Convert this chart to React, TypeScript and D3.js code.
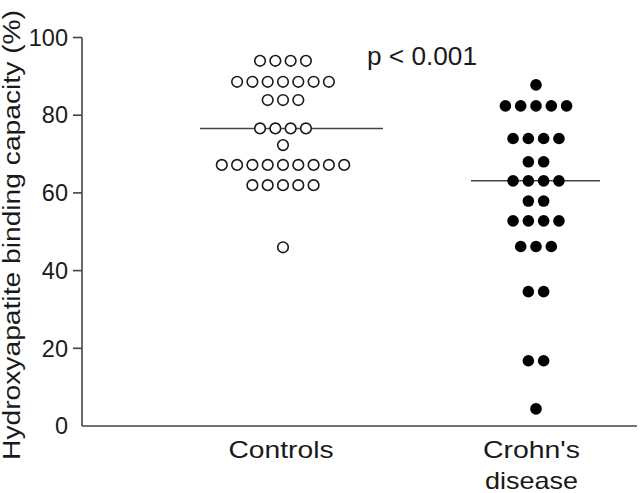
import React from "react";
import * as d3 from "d3";

// values, one entry per subject
const controls = [
  94, 94, 94, 94,
  88.6, 88.6, 88.6, 88.6, 88.6, 88.6, 88.6,
  83.9, 83.9, 83.9,
  76.6, 76.6, 76.6, 76.6,
  72.3,
  67.2, 67.2, 67.2, 67.2, 67.2, 67.2, 67.2, 67.2, 67.2,
  62, 62, 62, 62, 62,
  46,
];
const crohns = [
  87.8,
  82.4, 82.4, 82.4, 82.4, 82.4,
  74, 74, 74, 74,
  68, 68,
  63.1, 63.1, 63.1, 63.1,
  57.9, 57.9,
  52.8, 52.8, 52.8, 52.8,
  46.2, 46.2, 46.2,
  34.6, 34.6,
  16.8, 16.8,
  4.4,
];
const medians = [76.6, 63.1];
const categories = ["Controls", "Crohn's disease"];
const yTicks = [0, 20, 40, 60, 80, 100];

const W = 640;
const H = 493;
const ink = "#1a1a1a";
const lineCol = "#444";

// stack equal values side by side around the category centre
function swarm(values: number[], cx: number, step: number) {
  const groups = d3.group(values, (v) => v);
  const out: { v: number; x: number }[] = [];
  groups.forEach((vs, v) => {
    const n = vs.length;
    vs.forEach((_, i) => out.push({ v, x: cx + (i - (n - 1) / 2) * step }));
  });
  return out;
}

export default function App() {
  const y = d3.scaleLinear().domain([0, 100]).range([426, 37.5]);
  const x = d3.scalePoint<string>().domain(categories).range([283, 536]);
  const step = 15.3;
  const c0 = x(categories[0])!;
  const c1 = x(categories[1])!;
  const ctrlPts = swarm(controls, c0, step);
  const crohnPts = swarm(crohns, c1, step);
  // median bar extents (left, right) relative to each centre
  const medianSpan = [
    [-83, 100],
    [-65, 64],
  ];

  return (
    <svg
      width={W}
      height={H}
      style={{ position: "absolute", left: 0, top: 0, background: "#fff" }}
      fontFamily="'Liberation Sans', Arial, sans-serif"
    >
      {/* axes */}
      <line x1={82} x2={82} y1={y(100)} y2={y(0)} stroke={lineCol} strokeWidth={1.6} />
      <line x1={82} x2={637} y1={y(0)} y2={y(0)} stroke={lineCol} strokeWidth={1.6} />
      {yTicks.map((t) => (
        <g key={t}>
          {t > 0 && (
            <line x1={73} x2={82} y1={y(t)} y2={y(t)} stroke={lineCol} strokeWidth={1.6} />
          )}
          <text
            x={68}
            y={y(t)}
            dy="0.35em"
            textAnchor="end"
            fontSize={23.5}
            fill={ink}
          >
            {t}
          </text>
        </g>
      ))}
      <text
        transform="translate(20,235) rotate(-90)"
        textAnchor="middle"
        fontSize={23.5}
        fill={ink}
        textLength={450}
        lengthAdjust="spacingAndGlyphs"
      >
        Hydroxyapatite binding capacity (%)
      </text>

      {/* medians */}
      {medians.map((m, i) => {
        const cx = i === 0 ? c0 : c1;
        return (
          <line
            key={i}
            x1={cx + medianSpan[i][0]}
            x2={cx + medianSpan[i][1]}
            y1={y(m)}
            y2={y(m)}
            stroke={lineCol}
            strokeWidth={1.5}
          />
        );
      })}

      {/* points */}
      {ctrlPts.map((p, i) => (
        <circle key={"c" + i} cx={p.x} cy={y(p.v)} r={5.3} fill="#fff" stroke={ink} strokeWidth={1.6} />
      ))}
      {crohnPts.map((p, i) => (
        <circle key={"d" + i} cx={p.x} cy={y(p.v)} r={5.8} fill="#000" />
      ))}

      <text x={367} y={65} fontSize={25} fill={ink} textLength={110} lengthAdjust="spacingAndGlyphs">
        p &lt; 0.001
      </text>

      {/* category labels */}
      <text x={281} y={458} textAnchor="middle" fontSize={24} fill={ink} textLength={105} lengthAdjust="spacingAndGlyphs">
        Controls
      </text>
      <text x={531.5} y={458} textAnchor="middle" fontSize={24} fill={ink} textLength={97} lengthAdjust="spacingAndGlyphs">
        Crohn's
      </text>
      <text x={531.5} y={489} textAnchor="middle" fontSize={24} fill={ink} textLength={93} lengthAdjust="spacingAndGlyphs">
        disease
      </text>
    </svg>
  );
}
